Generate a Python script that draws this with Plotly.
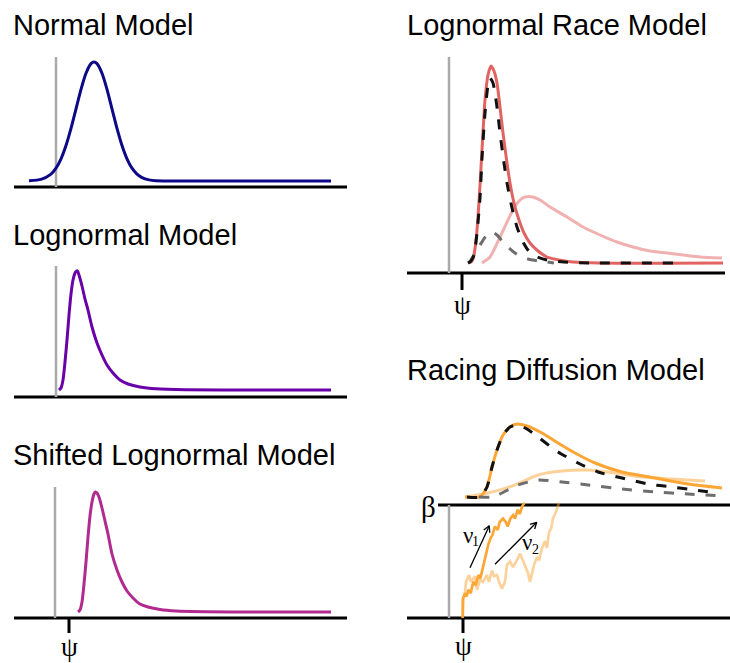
import math
import plotly.graph_objects as go

W, H = 730, 663

# ---------------- data (time in arbitrary units, 0 = left reference line) ----------------
# Normal model density
normal_t = [-0.27, -0.15, -0.05, 0.00, 0.05, 0.10, 0.15, 0.20, 0.25, 0.30, 0.35, 0.38, 0.41,
            0.46, 0.51, 0.56, 0.61, 0.66, 0.71, 0.76, 0.81, 0.86, 0.93, 1.00, 1.50, 2.75]
normal_d = [0.002, 0.016, 0.069, 0.128, 0.222, 0.355, 0.526, 0.722, 0.917, 1.078, 1.174, 1.19, 1.174,
            1.078, 0.917, 0.722, 0.526, 0.355, 0.222, 0.128, 0.069, 0.034, 0.011, 0.003, 0.0, 0.0]

# Lognormal model density
lognormal_t = [0.03, 0.05, 0.07, 0.09, 0.11, 0.13, 0.15, 0.17, 0.19, 0.205, 0.215, 0.23, 0.26, 0.29,
               0.32, 0.36, 0.41, 0.46, 0.51, 0.57, 0.64, 0.72, 0.84, 1.00, 1.30, 2.00, 2.75]
lognormal_d = [0.0, 0.02, 0.10, 0.28, 0.50, 0.75, 0.96, 1.10, 1.17, 1.19, 1.19, 1.15, 1.04, 0.91,
               0.80, 0.63, 0.47, 0.35, 0.25, 0.17, 0.10, 0.06, 0.03, 0.012, 0.003, 0.0, 0.0]

# Shifted lognormal model density
shifted_t = [0.22, 0.24, 0.26, 0.28, 0.30, 0.32, 0.34, 0.36, 0.38, 0.395, 0.41, 0.43, 0.46, 0.49,
             0.52, 0.56, 0.61, 0.66, 0.71, 0.77, 0.84, 0.92, 1.04, 1.20, 1.50, 2.00, 2.75]
shifted_d = [0.0, 0.02, 0.10, 0.28, 0.50, 0.75, 0.96, 1.10, 1.18, 1.20, 1.19, 1.15, 1.04, 0.91,
             0.78, 0.58, 0.42, 0.30, 0.21, 0.14, 0.08, 0.05, 0.025, 0.01, 0.003, 0.0, 0.0]
shift_psi = 0.13

# Lognormal race: winning accumulator, losing accumulator, and their defective densities
race_win_t = [0.19, 0.22, 0.24, 0.27, 0.29, 0.31, 0.33, 0.36, 0.39, 0.42, 0.45, 0.48, 0.51, 0.54,
              0.58, 0.61, 0.65, 0.69, 0.75, 0.81, 0.89, 0.98, 1.10, 1.24, 1.50, 2.74]
race_win_d = [0.0, 0.01, 0.04, 0.22, 0.46, 0.78, 1.13, 1.63, 1.88, 1.97, 1.92, 1.80, 1.56, 1.30,
              1.00, 0.80, 0.60, 0.46, 0.30, 0.20, 0.12, 0.06, 0.03, 0.01, 0.0, 0.0]
race_lose_t = [0.33, 0.41, 0.51, 0.64, 0.71, 0.76, 0.84, 0.91, 1.01, 1.18, 1.34, 1.51, 1.68, 1.84,
               2.01, 2.18, 2.34, 2.51, 2.73]
race_lose_d = [0.0, 0.06, 0.26, 0.53, 0.63, 0.66, 0.66, 0.63, 0.56, 0.46, 0.36, 0.28, 0.21, 0.16,
               0.12, 0.10, 0.08, 0.06, 0.05]
race_win_def_t = [0.19, 0.22, 0.25, 0.28, 0.31, 0.33, 0.36, 0.39, 0.41, 0.44, 0.46, 0.49, 0.51, 0.55,
                  0.58, 0.63, 0.68, 0.73, 0.79, 0.86, 0.98, 1.15, 1.40, 2.24]
race_win_def_d = [0.0, 0.02, 0.08, 0.30, 0.65, 1.05, 1.50, 1.78, 1.85, 1.80, 1.70, 1.48, 1.30, 1.00,
                  0.80, 0.55, 0.36, 0.23, 0.13, 0.07, 0.03, 0.01, 0.0, 0.0]
race_lose_def_t = [0.20, 0.25, 0.31, 0.37, 0.43, 0.48, 0.54, 0.60, 0.66, 0.73, 0.81, 0.90, 0.98, 1.05]
race_lose_def_d = [0.0, 0.08, 0.18, 0.27, 0.31, 0.28, 0.21, 0.15, 0.10, 0.06, 0.035, 0.02, 0.01, 0.0]
race_psi = 0.13

# Racing diffusion: densities above the threshold
rdm_win_t = [0.16, 0.31, 0.38, 0.43, 0.48, 0.54, 0.61, 0.68, 0.78, 0.93, 1.09, 1.26, 1.46, 1.73,
             2.06, 2.39, 2.73]
rdm_win_d = [0.0, 0.0, 0.10, 0.30, 0.47, 0.62, 0.70, 0.73, 0.71, 0.64, 0.54, 0.44, 0.34, 0.25,
             0.19, 0.13, 0.09]
rdm_lose_t = [0.16, 0.39, 0.66, 0.89, 1.13, 1.39, 1.66, 1.93, 2.23, 2.56]
rdm_lose_d = [0.0, 0.04, 0.12, 0.22, 0.26, 0.27, 0.24, 0.20, 0.18, 0.16]
rdm_win_def_t = [0.18, 0.31, 0.38, 0.43, 0.48, 0.54, 0.61, 0.69, 0.78, 0.89, 1.09, 1.29, 1.49,
                 1.73, 1.99, 2.23, 2.46, 2.69]
rdm_win_def_d = [0.0, 0.0, 0.10, 0.30, 0.47, 0.62, 0.70, 0.72, 0.68, 0.60, 0.45, 0.34, 0.25,
                 0.19, 0.13, 0.10, 0.07, 0.04]
rdm_lose_def_t = [0.30, 0.44, 0.69, 0.89, 1.13, 1.39, 1.73, 2.06, 2.39, 2.73]
rdm_lose_def_d = [0.0, 0.0, 0.12, 0.17, 0.15, 0.12, 0.08, 0.05, 0.03, 0.01]

# Racing diffusion: evidence paths (threshold beta = 1)
beta = 1.0
rdm_psi = 0.14
walk1_t = [0.137, 0.14, 0.16, 0.177, 0.193, 0.217, 0.243, 0.267, 0.293, 0.313, 0.34, 0.367, 0.393,
           0.417, 0.433, 0.46, 0.487, 0.507, 0.54, 0.567, 0.587, 0.613, 0.64, 0.66, 0.687, 0.707,
           0.733, 0.755]
walk1_e = [0.0, 0.17, 0.22, 0.19, 0.25, 0.22, 0.32, 0.29, 0.38, 0.35, 0.45, 0.56, 0.65,
           0.71, 0.73, 0.81, 0.78, 0.85, 0.88, 0.85, 0.81, 0.88, 0.91, 0.88, 0.96, 0.92,
           0.99, 1.02]
walk2_t = [0.137, 0.14, 0.16, 0.17, 0.20, 0.22, 0.26, 0.28, 0.31, 0.34, 0.38, 0.40, 0.43, 0.45,
           0.48, 0.50, 0.53, 0.56, 0.58, 0.61, 0.64, 0.66, 0.69, 0.71, 0.74, 0.76, 0.79, 0.81,
           0.83, 0.85, 0.88, 0.90, 0.93, 0.96, 0.98, 1.00, 1.02, 1.04, 1.07, 1.10]
walk2_e = [0.0, 0.17, 0.22, 0.32, 0.38, 0.32, 0.37, 0.25, 0.34, 0.32, 0.38, 0.32, 0.42, 0.37,
           0.38, 0.32, 0.26, 0.32, 0.47, 0.50, 0.45, 0.48, 0.53, 0.57, 0.51, 0.47, 0.40, 0.32,
           0.41, 0.47, 0.54, 0.51, 0.62, 0.68, 0.62, 0.76, 0.79, 0.88, 0.94, 1.02]
drift1_tail, drift1_head = (0.21, 0.445), (0.403, 0.817)
drift2_tail, drift2_head = (0.46, 0.475), (0.877, 0.847)

# ---------------- styling ----------------
PLASMA = ["#0d0887", "#6a00a8", "#b12a90", "#e16462", "#fca636"]
PINK_LIGHT = "rgba(225,100,98,0.5)"
ORANGE_LIGHT = "rgba(252,166,54,0.5)"
GREY_REF = "#aaaaaa"
GREY_DASH = "#6e6e6e"
BLACK = "#000000"
SANS = "Liberation Sans, Arial, Helvetica, sans-serif"
SERIF = "Liberation Serif, DejaVu Serif, serif"

# pixel scale of each unit on the axes
SX, SY, SE = 100.0, 100.0, 113.0

fig = go.Figure()
layout_axes = {}


def add_axes(idx, px0, px1, py0, py1, ox, oy, sx=SX, sy=SY, xidx=None):
    """Map a pixel box onto an axis pair (x origin ox, y origin oy)."""
    xidx = xidx or idx
    sfx = lambda i: "" if i == 1 else str(i)
    if xidx == idx:
        layout_axes["xaxis" + sfx(idx)] = dict(
            domain=[px0 / W, px1 / W], range=[(px0 - ox) / sx, (px1 - ox) / sx],
            visible=False, fixedrange=True, anchor="y" + sfx(idx))
    layout_axes["yaxis" + sfx(idx)] = dict(
        domain=[1 - py1 / H, 1 - py0 / H], range=[(oy - py1) / sy, (oy - py0) / sy],
        visible=False, fixedrange=True, anchor="x" + sfx(xidx))


add_axes(1, 0, 365, 40, 200, 56, 181)
add_axes(2, 0, 365, 250, 410, 56, 390)
add_axes(3, 0, 365, 470, 663, 56, 612)
add_axes(4, 395, 730, 45, 320, 449, 263)
add_axes(5, 395, 730, 400, 512, 449, 497)
add_axes(6, 395, 730, 495, 663, 449, 618, sy=SE, xidx=5)


def curve(t, d, xa, ya, color, width=3.0, dash=None, shape="spline"):
    fig.add_trace(go.Scatter(
        x=t, y=d, xaxis=xa, yaxis=ya, mode="lines", hoverinfo="skip", showlegend=False,
        line=dict(color=color, width=width, dash=dash, shape=shape, smoothing=0.6)))


DASH = "10px,11px"

curve(normal_t, normal_d, "x", "y", PLASMA[0])
curve(lognormal_t, lognormal_d, "x2", "y2", PLASMA[1])
curve(shifted_t, shifted_d, "x3", "y3", PLASMA[2])

curve(race_lose_t, race_lose_d, "x4", "y4", PINK_LIGHT)
curve(race_win_t, race_win_d, "x4", "y4", PLASMA[3])
curve(race_lose_def_t, race_lose_def_d, "x4", "y4", GREY_DASH, dash=DASH)
curve(race_win_def_t, race_win_def_d, "x4", "y4", "#111111", dash=DASH)

curve(rdm_lose_t, rdm_lose_d, "x5", "y5", ORANGE_LIGHT)
curve(rdm_win_t, rdm_win_d, "x5", "y5", PLASMA[4])
curve(rdm_lose_def_t, rdm_lose_def_d, "x5", "y5", GREY_DASH, dash=DASH)
curve(rdm_win_def_t, rdm_win_def_d, "x5", "y5", "#111111", dash=DASH)

curve(walk2_t, walk2_e, "x5", "y6", ORANGE_LIGHT, width=2.7, shape="linear")
curve(walk1_t, walk1_e, "x5", "y6", PLASMA[4], width=2.7, shape="linear")


def drift_arrow(tail, head, wing_px=7.0, spread_deg=28.0):
    """Thin arrow with an open V head, drawn in the evidence panel."""
    (tx, ty), (hx, hy) = tail, head
    dx, dy = (hx - tx) * SX, (hy - ty) * SE
    n = math.hypot(dx, dy)
    ux, uy = dx / n, dy / n
    xs, ys = [tx, hx, None], [ty, hy, None]
    for sgn in (1, -1):
        a = math.radians(spread_deg) * sgn
        wx = ux * math.cos(a) - uy * math.sin(a)
        wy = ux * math.sin(a) + uy * math.cos(a)
        xs += [hx - wing_px * wx / SX, hx, None]
        ys += [hy - wing_px * wy / SE, hy, None]
    fig.add_trace(go.Scatter(x=xs, y=ys, xaxis="x5", yaxis="y6", mode="lines",
                             hoverinfo="skip", showlegend=False,
                             line=dict(color=BLACK, width=1.3)))


drift_arrow(drift1_tail, drift1_head)
drift_arrow(drift2_tail, drift2_head)

shapes = []


def seg(xr, yr, x0, y0, x1, y1, color=BLACK, width=3.0):
    shapes.append(dict(type="line", xref=xr, yref=yr, x0=x0, y0=y0, x1=x1, y1=y1,
                       line=dict(color=color, width=width), layer="below"))


# left column: baselines and reference lines
seg("x", "y", -0.42, -0.06, 2.91, -0.06)
seg("x", "y", 0, -0.06, 0, 1.24, GREY_REF, 2.5)
seg("x2", "y2", -0.42, -0.07, 2.91, -0.07)
seg("x2", "y2", 0, -0.07, 0, 1.24, GREY_REF, 2.5)
seg("x3", "y3", -0.42, -0.06, 2.91, -0.06)
seg("x3", "y3", -0.01, -0.06, -0.01, 1.25, GREY_REF, 2.5)
seg("x3", "y3", shift_psi, -0.06, shift_psi, -0.21)

# race model
seg("x4", "y4", -0.42, -0.10, 2.76, -0.10)
seg("x4", "y4", 0, -0.10, 0, 2.06, GREY_REF, 2.5)
seg("x4", "y4", race_psi, -0.10, race_psi, -0.27)

# racing diffusion model
seg("x5", "y6", -0.11, beta, 2.81, beta)
seg("x5", "y6", -0.42, 0, 2.81, 0)
seg("x5", "y6", 0, 0, 0, beta, GREY_REF, 2.5)
seg("x5", "y6", rdm_psi, 0, rdm_psi, -0.133)

annotations = []


def title(text, px, py):
    annotations.append(dict(text=text, xref="paper", yref="paper", x=px / W, y=1 - py / H,
                            xanchor="left", yanchor="middle", showarrow=False,
                            font=dict(family=SANS, size=29, color=BLACK)))


title("Normal Model", 11, 25)
title("Lognormal Model", 11, 235)
title("Shifted Lognormal Model", 11, 455)
title("Lognormal Race Model", 405, 25)
title("Racing Diffusion Model", 405, 370)


def symbol(text, xr, yr, x, y, size=22):
    annotations.append(dict(text=text, xref=xr, yref=yr, x=x, y=y, xanchor="center",
                            yanchor="middle", showarrow=False,
                            font=dict(family=SERIF, size=size, color=BLACK)))


symbol("ψ", "x3", "y3", shift_psi, -0.35, size=27)
symbol("ψ", "x4", "y4", race_psi, -0.42, size=27)
symbol("ψ", "x5", "y6", rdm_psi, -0.25, size=27)
symbol("β", "x5", "y6", -0.21, 0.985, size=29)
symbol("ν", "x5", "y6", 0.185, 0.73, size=23)
symbol("1", "x5", "y6", 0.263, 0.675, size=14)
symbol("ν", "x5", "y6", 0.775, 0.668, size=23)
symbol("2", "x5", "y6", 0.86, 0.607, size=14)

fig.update_layout(
    width=W, height=H, autosize=False,
    margin=dict(l=0, r=0, t=0, b=0, pad=0),
    paper_bgcolor="white", plot_bgcolor="rgba(0,0,0,0)",
    showlegend=False, shapes=shapes, annotations=annotations,
    **layout_axes,
)

fig.write_html("out.html", config={"displayModeBar": False, "staticPlot": True})
